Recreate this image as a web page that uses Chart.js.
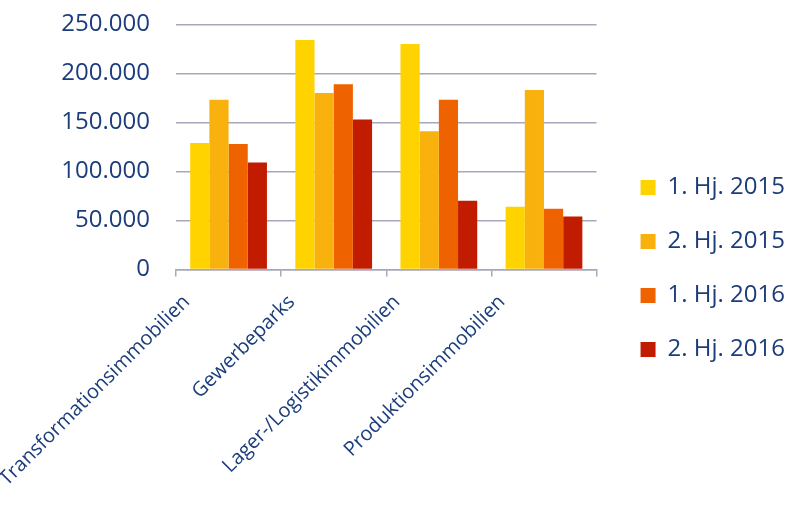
<!DOCTYPE html>
<html>
<head>
<meta charset="utf-8">
<script src="https://cdn.jsdelivr.net/npm/chart.js@4"></script>
<style>
  html, body { margin: 0; padding: 0; background: #ffffff; }
  #wrap { width: 785px; height: 510px; position: relative; }
</style>
</head>
<body>
<div id="wrap"><canvas id="chart"></canvas></div>
<script>
// Kategorien und Werte
const categories = ["Transformationsimmobilien", "Gewerbeparks", "Lager-/Logistikimmobilien", "Produktionsimmobilien"];
const seriesNames = ["1. Hj. 2015", "2. Hj. 2015", "1. Hj. 2016", "2. Hj. 2016"];
const hj1_2015 = [129000, 234000, 230000, 64000];
const hj2_2015 = [173000, 180000, 141000, 183000];
const hj1_2016 = [128000, 189000, 173000, 62000];
const hj2_2016 = [109000, 153000, 70000, 54000];
const yTicks = [0, 50000, 100000, 150000, 200000, 250000];

const colors = ["#FFD300", "#F9B10E", "#EE6300", "#C21C00"];
const textColor = "#1B3D7C";
const gridColor = "#A5A8BC";
const fontFamily = "'Open Sans', sans-serif";

// 250000 -> "250.000"
function formatDe(v) {
    return String(v).replace(/\B(?=(\d{3})+(?!\d))/g, ".");
}

// legend sits a bit further right than chart.js puts it
const legendShift = {
    id: "legendShift",
    afterInit(chart) {
        const lg = chart.legend;
        if (!lg) return;
        const origDraw = lg.draw.bind(lg);
        lg.draw = function () {
            const c = this.ctx;
            c.save();
            c.translate(14, 0);
            origDraw();
            c.restore();
        };
    }
};

const allSeries = [hj1_2015, hj2_2015, hj1_2016, hj2_2016];

const ctx = document.getElementById("chart").getContext("2d");
new Chart(ctx, {
    type: "bar",
    data: {
        labels: categories,
        datasets: allSeries.map((values, i) => ({
            label: seriesNames[i],
            data: values,
            backgroundColor: colors[i],
            borderWidth: 0,
            barPercentage: 1.0,
            categoryPercentage: 0.73
        }))
    },
    options: {
        responsive: true,
        maintainAspectRatio: false,
        animation: false,
        layout: { padding: { left: 0, right: 4, top: 8, bottom: 5 } },
        scales: {
            x: {
                grid: {
                    display: true,
                    drawOnChartArea: false,
                    color: gridColor,
                    lineWidth: 1.5,
                    tickLength: 7
                },
                border: { display: true, color: gridColor, width: 1.5 },
                ticks: {
                    color: textColor,
                    font: { family: fontFamily, size: 20 },
                    autoSkip: false,
                    minRotation: 45,
                    maxRotation: 45,
                    labelOffset: -42,
                    padding: 14
                }
            },
            y: {
                min: 0,
                max: 250000,
                afterBuildTicks: axis => { axis.ticks = yTicks.map(v => ({ value: v })); },
                afterFit: axis => { axis.width = 176; },
                grid: {
                    color: gridColor,
                    lineWidth: 1.5,
                    drawTicks: true,
                    tickLength: 16,
                    tickColor: "rgba(0,0,0,0)"
                },
                border: { display: false },
                ticks: {
                    color: textColor,
                    font: { family: fontFamily, size: 24 },
                    padding: 10,
                    callback: v => formatDe(v)
                }
            }
        },
        plugins: {
            legend: {
                position: "right",
                title: { display: true, text: " ", font: { size: 10 }, padding: 6 },
                labels: {
                    color: textColor,
                    font: { family: fontFamily, size: 24 },
                    boxWidth: 15,
                    boxHeight: 15,
                    padding: 30
                }
            },
            tooltip: { enabled: false }
        }
    },
    plugins: [legendShift]
});
</script>
</body>
</html>
